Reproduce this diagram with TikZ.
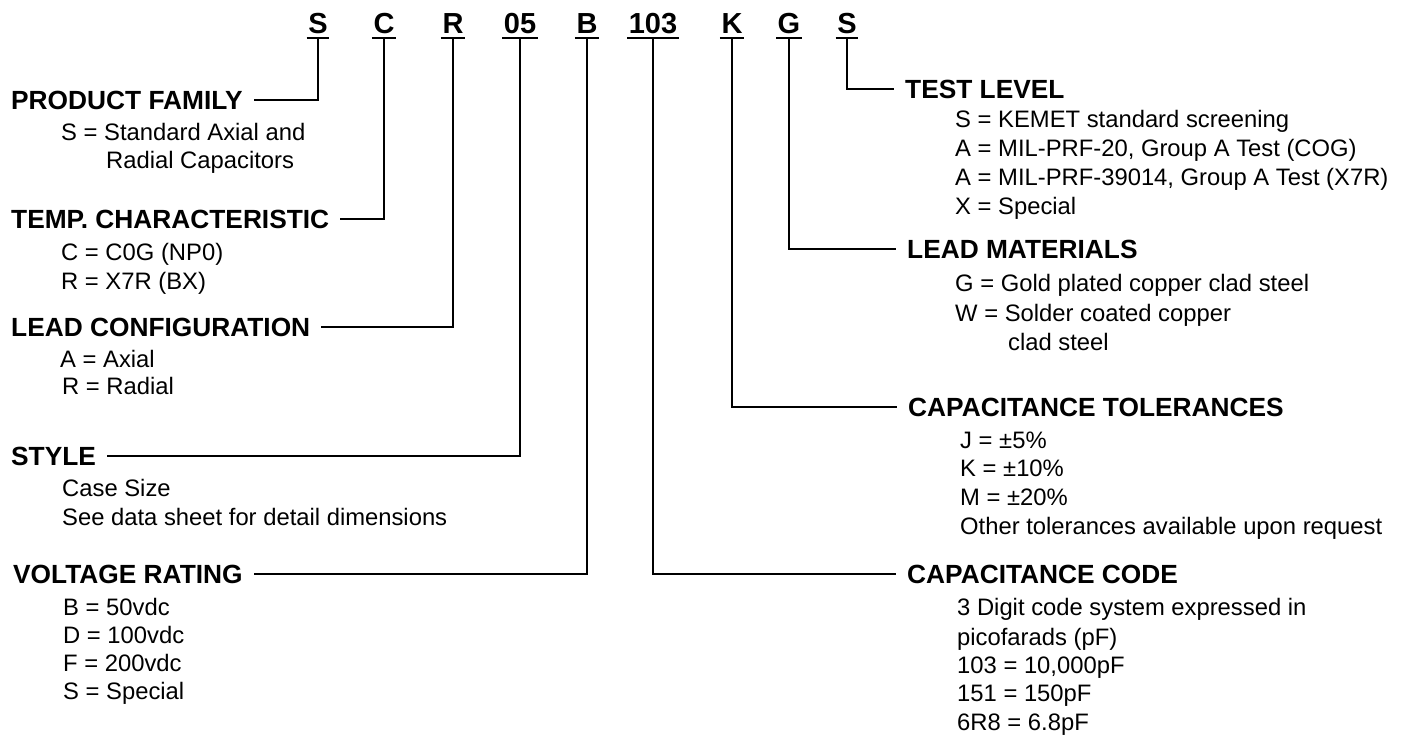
\documentclass[tikz,border=0pt]{standalone}
\usepackage{fontspec}
\setmainfont{Liberation Sans}
\tikzset{
  codeletter/.style={font=\fontsize{29}{29}\selectfont\bfseries, inner sep=0pt, anchor=base},
  heading/.style={font=\fontsize{26.3}{26}\selectfont\bfseries, inner xsep=11pt, inner ysep=0pt, text height=18.8pt, text depth=0pt, anchor=west},
  entry/.style={font=\fontsize{23.8}{24}\selectfont, inner sep=0pt, text height=17pt, text depth=0pt, anchor=west},
  leader/.style={line width=2pt},
  underbar/.style={line width=2.5pt}
}
\def\partcode(#1)(#2)#3{\node[codeletter] (#1) at (#2, 33) {#3};
  \draw[underbar] ([xshift=-1.5pt, yshift=-5pt]#1.base west) -- ([xshift=1.5pt, yshift=-5pt]#1.base east);}

\begin{document}
\begin{tikzpicture}[x=1pt, y=-1pt]
			%%%%% START %%%%%
			\useasboundingbox (0, 0) rectangle (1406, 734);
			
			\partcode(cS)(318){S}
			\partcode(cC)(384){C}
			\partcode(cR)(453){R}
			\partcode(cSize)(520){05}
			\partcode(cVolt)(587){B}
			\partcode(cCap)(653){103}
			\partcode(cTol)(732){K}
			\partcode(cMat)(789){G}
			\partcode(cTest)(847){S}
			
			\node[heading] (pf) at (0, 100) {PRODUCT FAMILY};
			\node[entry] (pf1) at (61, 132) {S = Standard Axial and};
			\node[entry] (pf2) at (106, 160) {Radial Capacitors};
			
			\node[heading] (temp) at (0, 219) {TEMP. CHARACTERISTIC};
			\node[entry] (temp1) at (61, 252) {C = C0G (NP0)};
			\node[entry] (temp2) at (61, 281) {R = X7R (BX)};
			
			\node[heading] (cfg) at (0, 327) {LEAD CONFIGURATION};
			\node[entry] (cfg1) at (60, 359) {A = Axial};
			\node[entry] (cfg2) at (62, 386) {R = Radial};
			
			\node[heading] (style) at (0, 456) {STYLE};
			\node[entry] (style1) at (62, 488) {Case Size};
			\node[entry] (style2) at (62, 517) {See data sheet for detail dimensions};
			
			\node[heading] (volt) at (2, 574) {VOLTAGE RATING};
			\node[entry] (volt1) at (63, 607) {B = 50vdc};
			\node[entry] (volt2) at (63, 635) {D = 100vdc};
			\node[entry] (volt3) at (63, 663) {F = 200vdc};
			\node[entry] (volt4) at (63, 691) {S = Special};
			
			\node[heading] (test) at (894, 89) {TEST LEVEL};
			\node[entry] (test1) at (955, 119) {S = KEMET standard screening};
			\node[entry] (test2) at (955, 148) {A = MIL-PRF-20, Group A Test (COG)};
			\node[entry] (test3) at (955, 177) {A = MIL-PRF-39014, Group A Test (X7R)};
			\node[entry] (test4) at (955, 206) {X = Special};
			
			\node[heading] (mat) at (896, 249) {LEAD MATERIALS};
			\node[entry] (mat1) at (955, 283) {G = Gold plated copper clad steel};
			\node[entry] (mat2) at (955, 313) {W = Solder coated copper};
			\node[entry] (mat3) at (1008, 342) {clad steel};
			
			\node[heading] (tol) at (897, 407) {CAPACITANCE TOLERANCES};
			\node[entry] (tol1) at (960, 440) {J = ±5\%};
			\node[entry] (tol2) at (960, 468) {K = ±10\%};
			\node[entry] (tol3) at (960, 497) {M = ±20\%};
			\node[entry] (tol4) at (960, 526) {Other tolerances available upon request};
			
			\node[heading] (cap) at (896, 574) {CAPACITANCE CODE};
			\node[entry] (cap1) at (957, 607) {3 Digit code system expressed in};
			\node[entry] (cap2) at (957, 637) {picofarads (pF)};
			\node[entry] (cap3) at (957, 665) {103 = 10,000pF};
			\node[entry] (cap4) at (957, 693) {151 = 150pF};
			\node[entry] (cap5) at (957, 722) {6R8 = 6.8pF};
			
			\draw[leader] ([yshift=-5pt]cS.base) |- (pf.east);
			\draw[leader] ([yshift=-5pt]cC.base) |- (temp.east);
			\draw[leader] ([yshift=-5pt]cR.base) |- (cfg.east);
			\draw[leader] ([yshift=-5pt]cSize.base) |- (style.east);
			\draw[leader] ([yshift=-5pt]cVolt.base) |- (volt.east);
			\draw[leader] ([yshift=-5pt]cCap.base) |- (cap.west);
			\draw[leader] ([yshift=-5pt]cTol.base) |- (tol.west);
			\draw[leader] ([yshift=-5pt]cMat.base) |- (mat.west);
			\draw[leader] ([yshift=-5pt]cTest.base) |- (test.west);
			
			%%%%% END %%%%%
\end{tikzpicture}
\end{document}
